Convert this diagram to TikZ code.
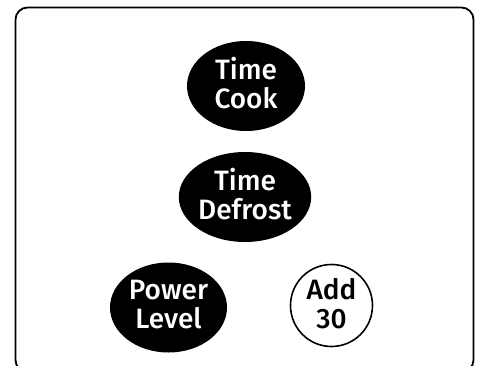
\documentclass[tikz,border=0pt]{standalone}
\usepackage{fontspec}
\setmainfont{Fira Sans}[UprightFont=* Medium]
\usetikzlibrary{shapes.geometric}
\tikzset{ key/.style = { ellipse % dark key
        , fill = black
        , inner sep = 0pt
        , minimum width = 118pt
        , minimum height = 90pt
        , align = center
        , text depth = 6pt
        , font = \color{white}\fontsize{28}{29.5}\selectfont
        }
        , round key/.style = { circle % light key
        , draw = black
        , line width = 1.6pt
        , fill = white
        , inner sep = 0pt
        , minimum size = 82pt
        , align = center
        , text depth = 4pt
        , font = \color{black}\fontsize{28}{29.5}\selectfont
        }
        }

\begin{document}
\begin{tikzpicture}[x=1pt, y=1pt]
        \useasboundingbox (0,0) rectangle (480,365);
        \clip (0,0) rectangle (480,365);
        \draw [line width=1.8pt, rounded corners=12pt] (15.5,357.5) rectangle (473.5,-7);

        \node [key] (timecook) at (246,279) {Time\\Cook};
        \node [key, minimum width=112pt] (timedefrost) at (245,168) {Time\\Defrost};
        \node [key, minimum width=117pt] (powerlevel) at (168.5,57.5) {Power\\Level};
        \node [round key] (add30) at (331.5,59.5) {Add\\30};
\end{tikzpicture}
\end{document}
